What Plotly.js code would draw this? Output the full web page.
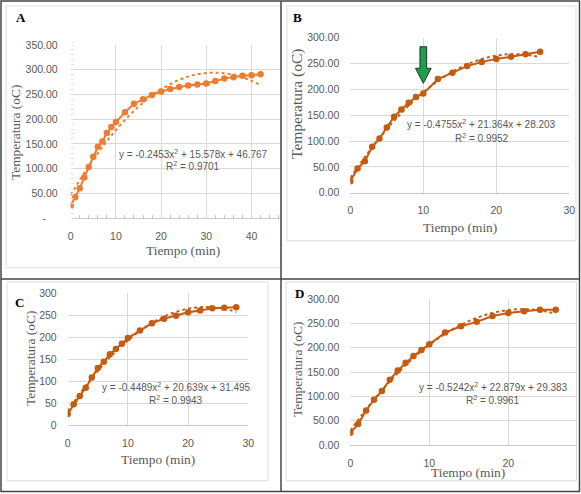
<!DOCTYPE html>
<html>
<head>
<meta charset="utf-8">
<script src="https://cdn.plot.ly/plotly-3.0.1.min.js"></script>
<style>html,body{margin:0;padding:0;background:#fff;}#chart{width:581px;height:494px;}</style>
</head>
<body>
<div id="chart"></div>
<script>
// ---- Data ----
const timeA = [0,1,2,3,4,5,6,7,8,9,10,12,14,16,18,20,22,24,26,28,30,32,34,36,38,40,42];
const tempA = [25,42,60,82,103,124,144,155,172,184,194,214,231,240,249,256,261,265,268,270,272,277,282,285,288,289,291];
const coefA = [-0.2453, 15.578, 46.767];
const r2A = "0.9701";

const timeB = [0,1,2,3,4,5,6,7,8,9,10,12,14,16,18,20,22,24,26];
const tempB = [22,47,61,89,105,126,147,161,174,185,192,220,232,245,253,259,263,268,273];
const coefB = [-0.4755, 21.364, 28.203];
const r2B = "0.9952";

const timeC = [0,1,2,3,4,5,6,7,8,9,10,12,14,16,18,20,22,24,26,28];
const tempC = [25,47,66,85,108,130,144,161,173,185,198,215,232,242,249,257,261,266,267,268];
const coefC = [-0.4489, 20.639, 31.495];
const r2C = "0.9943";

const timeD = [0,1,2,3,4,5,6,7,8,9,10,12,14,16,18,20,22,24,26];
const tempD = [25,43,71,93,111,134,153,169,183,195,207,231,244,253,265,271,275,278,278];
const coefD = [-0.5242, 22.879, 29.383];
const r2D = "0.9961";

const ticksA = [0,50,100,150,200,250,300,350];
const ticksA_text = ["-\u00a0\u00a0\u00a0\u00a0","50.00","100.00","150.00","200.00","250.00","300.00","350.00"];

// ---- helpers ----
const W = 581, H = 494;
const px = v => v / W;
const py = v => 1 - v / H;
const trend = (c, xs) => xs.map(x => c[0]*x*x + c[1]*x + c[2]);
const fmtEq = c => "y = " + c[0].toFixed(4) + "x<sup>2</sup> + " + c[1].toFixed(3) + "x + " + c[2].toFixed(3);

const orange = "#ED7D31";
const brown = "#C55A11";
const tickFont = {family: "Liberation Sans, Arial, sans-serif", size: 10.5, color: "#595959"};
const serif = "Liberation Serif, Times New Roman, serif";

function mkTraces(xs, ys, coef, color, ax) {
  return [
    {x: xs, y: trend(coef, xs), xaxis: "x"+ax, yaxis: "y"+ax, mode: "lines",
     line: {color: color, width: 2, dash: "dot", shape: "spline"}, hoverinfo: "skip"},
    {x: xs, y: ys, xaxis: "x"+ax, yaxis: "y"+ax, mode: "lines+markers",
     line: {color: color, width: 2}, marker: {color: color, size: 6.5}}
  ];
}

const traces = [].concat(
  mkTraces(timeA, tempA, coefA, orange, ""),
  mkTraces(timeB, tempB, coefB, brown, "2"),
  mkTraces(timeC, tempC, coefC, brown, "3"),
  mkTraces(timeD, tempD, coefD, brown, "4")
);

function xax(dom, range, dtick, extra) {
  return Object.assign({
    domain: [px(dom[0]), px(dom[1])], range: range, dtick: dtick, tick0: 0,
    showgrid: true, gridcolor: "#d9d9d9", gridwidth: 1, zeroline: false,
    showline: true, linecolor: "#c8c8c8", linewidth: 1,
    ticks: "", tickfont: tickFont, ticklabelstandoff: 8, fixedrange: true
  }, extra || {});
}
function yax(dom, range, extra) {
  return Object.assign({
    domain: [py(dom[1]), py(dom[0])], range: range,
    showgrid: true, gridcolor: "#d9d9d9", gridwidth: 1, zeroline: false,
    showline: false, ticks: "", tickfont: tickFont, ticklabelstandoff: 10, fixedrange: true
  }, extra || {});
}

const layout = {
  width: W, height: H, margin: {l: 0, r: 0, t: 0, b: 0},
  paper_bgcolor: "#ffffff", plot_bgcolor: "#ffffff", showlegend: false,
  xaxis: xax([70.7, 280], [0, 46.3], 10, {anchor: "y",
    minor: {dtick: 2, ticks: "inside", ticklen: 3, tickcolor: "#c8c8c8", showgrid: false}}),
  yaxis: yax([45, 218], [0, 350], {anchor: "x", tickvals: ticksA, ticktext: ticksA_text, ticklabelstandoff: 12,
    minor: {dtick: 10, ticks: "inside", ticklen: 3, tickcolor: "#e0e0e0", showgrid: false}}),
  xaxis2: xax([350.3, 569.3], [0, 30], 10, {anchor: "y2"}),
  yaxis2: yax([37.7, 192.7], [0, 300], {anchor: "x2", dtick: 50, tickformat: ".2f"}),
  xaxis3: xax([67.7, 248.3], [0, 30], 10, {anchor: "y3"}),
  yaxis3: yax([293.3, 425], [0, 300], {anchor: "x3", dtick: 50}),
  xaxis4: xax([350.3, 576.5], [0, 28.63], 10, {anchor: "y4"}),
  yaxis4: yax([299, 445], [0, 300], {anchor: "x4", dtick: 50, tickformat: ".2f"}),
  shapes: [
    // chart-area frames
    {type: "rect", xref: "paper", yref: "paper", x0: px(6), x1: px(281), y0: py(267.7), y1: py(6), line: {color: "#dddddd", width: 1}, layer: "below"},
    {type: "rect", xref: "paper", yref: "paper", x0: px(287), x1: px(576), y0: py(240.7), y1: py(6), line: {color: "#dddddd", width: 1}, layer: "below"},
    {type: "rect", xref: "paper", yref: "paper", x0: px(7), x1: px(268), y0: py(480.7), y1: py(282), line: {color: "#dddddd", width: 1}, layer: "below"},
    {type: "rect", xref: "paper", yref: "paper", x0: px(286), x1: px(576.5), y0: py(480.7), y1: py(282), line: {color: "#dddddd", width: 1}, layer: "below"},
    // outer border and dividers
    {type: "rect", xref: "paper", yref: "paper", x0: px(1), x1: px(579.5), y0: py(491.5), y1: py(1), line: {color: "#444444", width: 1.5}},
    {type: "line", xref: "paper", yref: "paper", x0: px(281), x1: px(281), y0: py(491.5), y1: py(1), line: {color: "#444444", width: 1.5}},
    {type: "line", xref: "paper", yref: "paper", x0: px(1), x1: px(579.5), y0: py(279), y1: py(279), line: {color: "#444444", width: 1.5}},
    // green arrow in panel B (pointing at t = 10 min)
    {type: "path", xref: "x2", yref: "y2",
     path: "M 9.54 282.6 L 10.46 282.6 L 10.46 240.8 L 11.07 240.8 L 10 211.7 L 8.93 240.8 L 9.54 240.8 Z",
     fillcolor: "#1E9E4A", line: {color: "#1b3a24", width: 1}}
  ],
  annotations: []
};

function addText(text, x, y, font, extra) {
  layout.annotations.push(Object.assign({
    text: text, xref: "paper", yref: "paper", x: px(x), y: py(y),
    xanchor: "center", yanchor: "middle", showarrow: false, font: font
  }, extra || {}));
}

const eqFont = {family: "Liberation Sans, Arial, sans-serif", size: 10, color: "#595959"};
const titleFont = {family: serif, size: 13.4, color: "#595959"};
const labelFont = {family: serif, size: 13, color: "#000000"};

// panel labels
addText("<b>A</b>", 20.7, 17, labelFont);
addText("<b>B</b>", 297, 17, labelFont);
addText("<b>C</b>", 20, 302, labelFont);
addText("<b>D</b>", 299, 293, labelFont);

// equations
addText(fmtEq(coefA), 193.3, 154, eqFont); addText("R<sup>2</sup> = " + r2A, 193.3, 166, eqFont);
addText(fmtEq(coefB), 481.7, 124, eqFont); addText("R<sup>2</sup> = " + r2B, 481.7, 138, eqFont);
addText(fmtEq(coefC), 176, 387, eqFont);   addText("R<sup>2</sup> = " + r2C, 176, 400, eqFont);
addText(fmtEq(coefD), 493.3, 387, eqFont); addText("R<sup>2</sup> = " + r2D, 493.3, 400, eqFont);

// axis titles
addText("Tiempo (min)", 183, 251, titleFont);
addText("Tiempo (min)", 460, 227, titleFont);
addText("Tiempo (min)", 158, 459, titleFont);
addText("Tiempo (min)", 468, 472, titleFont);
addText("Temperatura (oC)", 16, 133, titleFont, {textangle: -90});
addText("Temperatura (oC)", 297, 104, Object.assign({}, titleFont, {size: 15.5}), {textangle: -90});
addText("Temperatura (oC)", 30, 359, titleFont, {textangle: -90});
addText("Temperatura (oC)", 297, 370, titleFont, {textangle: -90});

Plotly.newPlot("chart", traces, layout, {displayModeBar: false, staticPlot: true});
</script>
</body>
</html>
